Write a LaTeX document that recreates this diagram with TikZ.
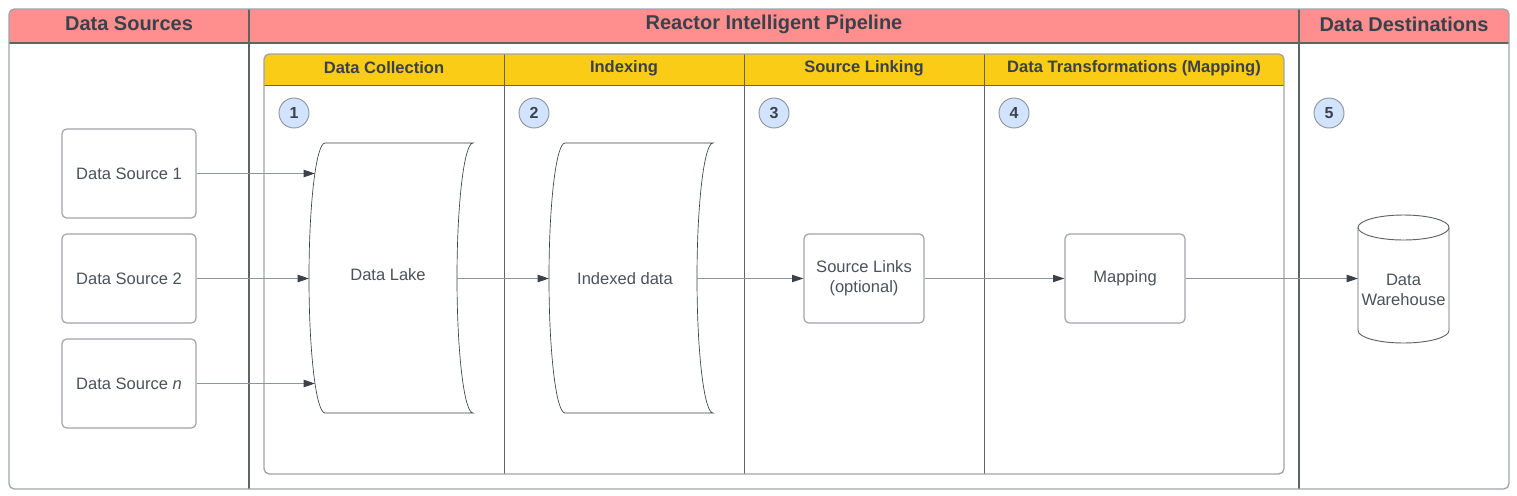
\documentclass[tikz,border=0pt]{standalone}
\usepackage{fontspec}
\setmainfont{Liberation Sans}
\usetikzlibrary{arrows.meta}
\definecolor{hdrred}{HTML}{FF8F8F}
\definecolor{hdryel}{HTML}{FACC15}
\definecolor{circblue}{HTML}{D1E3FF}
\definecolor{txtdark}{HTML}{3A414A}
\definecolor{txtbody}{HTML}{4B525B}
\definecolor{framegray}{HTML}{A0A4AA}
\definecolor{divgray}{HTML}{5F6368}
\definecolor{linegray}{HTML}{8F949A}
\definecolor{arrowdark}{HTML}{3A414A}
\tikzset{
  x=0.75pt, y=-0.75pt,
  frame/.style={draw=framegray, line width=1pt},
  divider/.style={draw=divgray, line width=0.9pt},
  lanediv/.style={draw=divgray, line width=0.7pt},
  bighead/.style={font=\fontsize{15}{18}\selectfont\bfseries, text=txtdark},
  lanehead/.style={font=\fontsize{12.4}{15}\selectfont\bfseries, text=txtdark},
  body/.style={font=\fontsize{12.4}{15}\selectfont, text=txtbody, align=center},
  procbox/.style={draw=framegray, line width=0.9pt, rounded corners=3.5pt, fill=white,
    minimum height=66.75pt, body},
  numcirc/.style={circle, draw=linegray, line width=0.7pt, fill=circblue, minimum size=22.5pt,
    inner sep=0pt, font=\fontsize{12}{14}\selectfont\bfseries, text=txtdark},
  conn/.style={draw=linegray, line width=0.75pt, -{Triangle[length=8.5pt, width=5.5pt, color=arrowdark]}},
  shapeline/.style={draw=txtdark, line width=0.5pt, fill=white}
}
\begin{document}
\begin{tikzpicture}
\useasboundingbox (0,0) rectangle (1517,496);
% outer frame
\begin{scope}
  \clip[rounded corners=4pt] (9,9) rectangle (1509,489);
  \fill[white] (9,9) rectangle (1509,489);
  \fill[hdrred] (9,9) rectangle (1509,43);
\end{scope}
\draw[divider] (9,43) -- (1509,43);
\draw[divider] (249,9) -- (249,489);
\draw[divider] (1299,9) -- (1299,489);
\draw[frame, rounded corners=4pt] (9,9) rectangle (1509,489);
\node[bighead] (hsrc) at (129,24) {Data Sources};
\node[bighead] (hpipe) at (774,24) {Reactor Intelligent Pipeline};
\node[bighead] (hdst) at (1404,24) {Data Destinations};
% inner pool
\begin{scope}
  \clip[rounded corners=4pt] (264,54) rectangle (1284,474);
  \fill[white] (264,54) rectangle (1284,474);
  \fill[hdryel] (264,54) rectangle (1284,85);
\end{scope}
\draw[lanediv] (264,85) -- (1284,85);
\draw[lanediv] (504,54) -- (504,474);
\draw[lanediv] (744,54) -- (744,474);
\draw[lanediv] (984,54) -- (984,474);
\draw[frame, rounded corners=4pt] (264,54) rectangle (1284,474);
\node[lanehead] (lcol) at (384,68) {Data Collection};
\node[lanehead] (lidx) at (624,68) {Indexing};
\node[lanehead] (llnk) at (864,68) {Source Linking};
\node[lanehead] (lmap) at (1134,68) {Data Transformations (Mapping)};
% numbers
\node[numcirc] (n1) at (294,113) {1};
\node[numcirc] (n2) at (534,113) {2};
\node[numcirc] (n3) at (774,113) {3};
\node[numcirc] (n4) at (1014,113) {4};
\node[numcirc] (n5) at (1329,113) {5};
% data sources
\node[procbox, minimum width=100.5pt] (ds1) at (129,173.5) {Data Source 1};
\node[procbox, minimum width=100.5pt] (ds2) at (129,278.5) {Data Source 2};
\node[procbox, minimum width=100.5pt] (dsn) at (129,383.5) {Data Source \textit{n}};
% data lake (stored data shape)
\draw[shapeline] (325,143) .. controls (316.16,143) and (309,203.4) .. (309,278)
  .. controls (309,352.6) and (316.16,413) .. (325,413) -- (473,413)
  .. controls (464.16,413) and (457,352.6) .. (457,278)
  .. controls (457,203.4) and (464.16,143) .. (473,143) -- cycle;
\node[body] (lake) at (388,275) {Data Lake};
\coordinate (lakein1) at (315,173.5);
\coordinate (lakein2) at (309,278.5);
\coordinate (lakein3) at (315,383.5);
\coordinate (lakeout) at (457,278.5);
% indexed data
\draw[shapeline] (565,143) .. controls (556.16,143) and (549,203.4) .. (549,278)
  .. controls (549,352.6) and (556.16,413) .. (565,413) -- (713,413)
  .. controls (704.16,413) and (697,352.6) .. (697,278)
  .. controls (697,203.4) and (704.16,143) .. (713,143) -- cycle;
\node[body] (idx) at (625,279) {Indexed data};
\coordinate (idxin) at (549,278.5);
\coordinate (idxout) at (697,278.5);
% source links and mapping
\node[procbox, minimum width=90pt] (links) at (864,278.5) {Source Links\\(optional)};
\node[procbox, minimum width=90pt] (map) at (1125,278.5) {Mapping};
% data warehouse cylinder
\draw[shapeline, draw=divgray, line width=0.7pt] (1358,227.5) -- (1358,330.5)
  .. controls (1358,337.4) and (1378.37,343) .. (1403.5,343)
  .. controls (1428.63,343) and (1449,337.4) .. (1449,330.5) -- (1449,227.5)
  .. controls (1449,220.6) and (1428.63,215) .. (1403.5,215)
  .. controls (1378.37,215) and (1358,220.6) .. (1358,227.5) -- cycle;
\draw[shapeline, draw=divgray, line width=0.7pt, fill=none] (1358,227.5)
  .. controls (1358,234.4) and (1378.37,240) .. (1403.5,240)
  .. controls (1428.63,240) and (1449,234.4) .. (1449,227.5);
\node[body, font=\fontsize{12.4}{14.5}\selectfont] (dw) at (1403.5,290) {Data\\Warehouse};
\coordinate (dwin) at (1358,278.5);
% connectors
\draw[conn] (ds1) -- (lakein1);
\draw[conn] (ds2) -- (lakein2);
\draw[conn] (dsn) -- (lakein3);
\draw[conn] (lakeout) -- (idxin);
\draw[conn] (idxout) -- (links);
\draw[conn] (links) -- (map);
\draw[conn] (map) -- (dwin);
\end{tikzpicture}
\end{document}
